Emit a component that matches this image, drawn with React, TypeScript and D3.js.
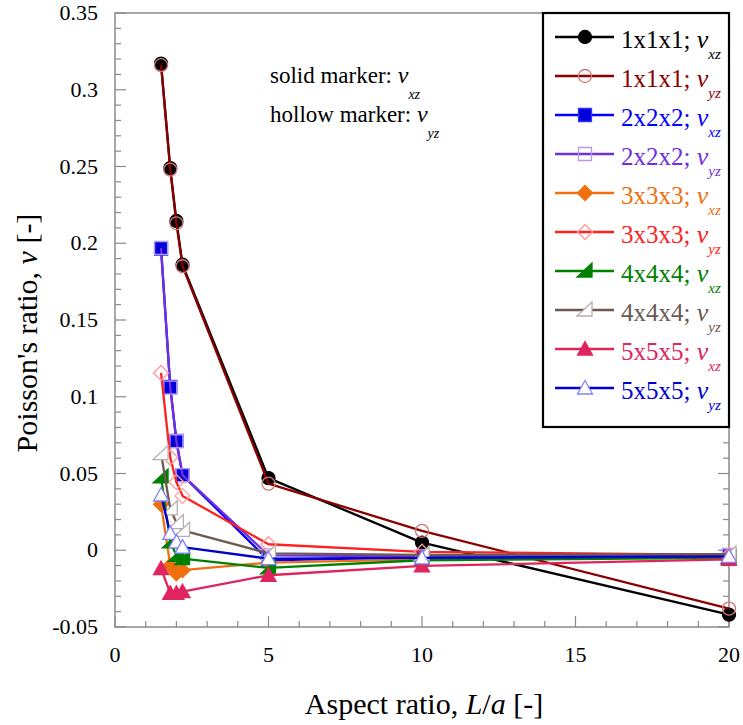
import React from "react";
import * as d3 from "d3";

const aspectRatios = [1.5, 1.8, 2, 2.2, 5, 10, 20];
const nu111xz = [0.317, 0.249, 0.2145, 0.186, 0.047, 0.005, -0.042];
const nu111yz = [0.316, 0.248, 0.213, 0.185, 0.0434, 0.0126, -0.038];
const nu222xz = [0.1965, 0.1064, 0.0712, 0.0489, -0.0065, -0.0044, -0.004];
const nu222yz = [0.197, 0.106, 0.071, 0.049, -0.0033, -0.004, -0.003];
const nu333xz = [0.03, -0.01, -0.015, -0.013, -0.008, -0.006, -0.004];
const nu333yz = [0.1155, 0.0604, 0.0445, 0.0354, 0.0039, -0.001, -0.003];
const nu444xz = [0.0478, 0.0054, -0.0033, -0.0054, -0.0115, -0.0065, -0.005];
const nu444yz = [0.063, 0.027, 0.018, 0.013, -0.002, -0.003, -0.0025];
const nu555xz = [-0.012, -0.028, -0.028, -0.027, -0.0163, -0.0102, -0.006];
const nu555yz = [0.036, 0.011, 0.0054, 0.002, -0.0055, -0.005, -0.004];

const seriesNames = ["1x1x1", "1x1x1", "2x2x2", "2x2x2", "3x3x3", "3x3x3", "4x4x4", "4x4x4", "5x5x5", "5x5x5"];
const seriesSubs = ["xz", "yz", "xz", "yz", "xz", "yz", "xz", "yz", "xz", "yz"];
const seriesValues = [nu111xz, nu111yz, nu222xz, nu222yz, nu333xz, nu333yz, nu444xz, nu444yz, nu555xz, nu555yz];
const lineColors = ["#000000", "#8b0000", "#0000ff", "#7030e0", "#f07010", "#ff2020", "#008000", "#6b5a52", "#e0245e", "#0000d0"];
const markerTypes = ["circle", "circle", "square", "square", "diamond", "diamond", "rtri", "rtri", "tri", "tri"];
const markerStrokes = ["#000000", "#d07878", "#3030ff", "#b898f0", "#f07010", "#ff9a9a", "#008000", "#b8aeae", "#e0245e", "#8080ff"];
const markerFills = ["#000000", "none", "#0000d8", "none", "#f07010", "none", "#008000", "#ffffff", "#e0245e", "#ffffff"];

const xTicks = [0, 5, 10, 15, 20];
const yTicks = [-0.05, 0, 0.05, 0.1, 0.15, 0.2, 0.25, 0.3, 0.35];
const yTickLabels = ["-0.05", "0", "0.05", "0.1", "0.15", "0.2", "0.25", "0.3", "0.35"];

const W = 743, H = 725;
const L = 115, R = 729, T = 13, B = 627;
const FONT = "Liberation Serif, DejaVu Serif, serif";

function markerPath(type: string): string {
  switch (type) {
    case "circle": {
      const r = 6.5;
      return `M${-r},0A${r},${r} 0 1,0 ${r},0A${r},${r} 0 1,0 ${-r},0Z`;
    }
    case "square": {
      const s = 6.5;
      return `M${-s},${-s}H${s}V${s}H${-s}Z`;
    }
    case "diamond": {
      const s = 7.5;
      return `M0,${-s}L${s},0L0,${s}L${-s},0Z`;
    }
    case "tri":
      return `M0,-7.5L7.5,6L-7.5,6Z`;
    case "rtri":
      return `M7,-8L7,6L-8,6Z`;
  }
  return "";
}

export default function App() {
  const x = d3.scaleLinear().domain([0, 20]).range([L, R]);
  const y = d3.scaleLinear().domain([-0.05, 0.35]).range([B, T]);
  const line = d3.line<[number, number]>().x((d) => x(d[0])).y((d) => y(d[1]));

  const xMinor = d3.range(0, 21, 1);
  const yMinor = d3.range(-50, 351, 10).map((v) => v / 1000);
  const axisColor = "#8a8a8a";

  const legX = 543, legY = 13, legW = R - 543, legH = 414;
  const rowY0 = 37, rowDy = 39;

  return (
    <svg width={W} height={H} style={{ display: "block", position: "absolute", left: 0, top: 0, fontFamily: FONT }}>
      <rect x={0} y={0} width={W} height={H} fill="#fff" />
      <rect x={L} y={T} width={R - L} height={B - T} fill="none" stroke={axisColor} strokeWidth={1.5} />
      {xMinor.map((v) => {
        const len = v % 5 === 0 ? 11 : 6;
        return <line key={"xt" + v} x1={x(v)} x2={x(v)} y1={B} y2={B - len} stroke={axisColor} strokeWidth={1.2} />;
      })}
      {yMinor.map((v, i) => {
        const len = i % 5 === 0 ? 11 : 6;
        return (
          <g key={"yt" + i} stroke={axisColor} strokeWidth={1.2}>
            <line x1={L} x2={L + len} y1={y(v)} y2={y(v)} />
            <line x1={R} x2={R - len} y1={y(v)} y2={y(v)} />
          </g>
        );
      })}
      {xTicks.map((v) => (
        <text key={"xl" + v} x={x(v)} y={662} textAnchor="middle" fontSize={22} fill="#000">
          {v}
        </text>
      ))}
      {yTicks.map((v, i) => (
        <text key={"yl" + v} x={98} y={y(v) + 7} textAnchor="end" fontSize={22} fill="#000">
          {yTickLabels[i]}
        </text>
      ))}
      <text x={(L + R) / 2 + 2} y={714} textAnchor="middle" fontSize={30} fill="#000">
        Aspect ratio, <tspan fontStyle="italic">L</tspan>/<tspan fontStyle="italic">a</tspan> [-]
      </text>
      <text transform={`translate(37,${(T + B) / 2 + 13}) rotate(-90)`} textAnchor="middle" fontSize={30} fill="#000">
        Poisson's ratio, <tspan fontStyle="italic">ν</tspan> [-]
      </text>
      <text x={270} y={83} fontSize={23} fill="#000">
        solid marker:  <tspan fontStyle="italic" fontSize={24}>ν</tspan>
        <tspan fontStyle="italic" fontSize={14} dy={16}>xz</tspan>
      </text>
      <text x={270} y={122} fontSize={23} fill="#000">
        hollow marker:  <tspan fontStyle="italic" fontSize={24}>ν</tspan>
        <tspan fontStyle="italic" fontSize={14} dy={16}>yz</tspan>
      </text>
      {seriesValues.map((vals, si) => {
        const pts: [number, number][] = aspectRatios.map((a, i) => [a, vals[i]]);
        return (
          <g key={"s" + si}>
            <path d={line(pts) || ""} fill="none" stroke={lineColors[si]} strokeWidth={2.3} strokeLinejoin="round" />
            {pts.map((p, i) => (
              <path
                key={i}
                d={markerPath(markerTypes[si])}
                transform={`translate(${x(p[0])},${y(p[1])})`}
                fill={markerFills[si]}
                stroke={markerStrokes[si]}
                strokeWidth={1.3}
              />
            ))}
          </g>
        );
      })}
      <rect x={legX} y={legY} width={legW} height={legH} fill="#fff" stroke="#000" strokeWidth={2.2} />
      {seriesValues.map((_, si) => {
        const cy = rowY0 + si * rowDy;
        return (
          <g key={"lg" + si}>
            <line x1={555} x2={614} y1={cy} y2={cy} stroke={lineColors[si]} strokeWidth={2.3} />
            <path
              d={markerPath(markerTypes[si])}
              transform={`translate(585,${cy})`}
              fill={markerFills[si]}
              stroke={markerStrokes[si]}
              strokeWidth={1.3}
            />
            <text x={621} y={cy + 11} fontSize={25} fill={lineColors[si]}>
              {seriesNames[si]};{" "}
              <tspan fontStyle="italic" fontSize={26}>ν</tspan>
              <tspan fontStyle="italic" fontSize={15} dy={11}>{seriesSubs[si]}</tspan>
            </text>
          </g>
        );
      })}
    </svg>
  );
}
